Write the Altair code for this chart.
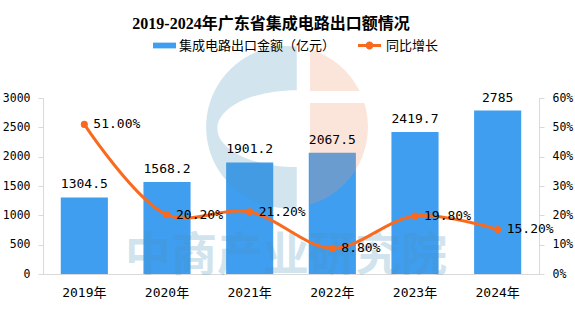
import altair as alt
import pandas as pd

years = ["2019年", "2020年", "2021年", "2022年", "2023年", "2024年"]
exports = [1304.5, 1568.2, 1901.2, 2067.5, 2419.7, 2785]
export_labels = ["1304.5", "1568.2", "1901.2", "2067.5", "2419.7", "2785"]
growth = [0.51, 0.202, 0.212, 0.088, 0.198, 0.152]

bar_series = "集成电路出口金额（亿元）"
line_series = "同比增长"
title_text = "2019-2024年广东省集成电路出口额情况"
watermark_text = "中商产业研究院"

BLUE = "#3f9ef0"
ORANGE = "#f96a1f"
AXIS_GRAY = "#d9d9d9"
NUM_FONT = "DejaVu Sans Mono, Noto Sans CJK SC"
CJK_FONT = "Noto Sans CJK SC"

df = pd.DataFrame({
    "year": years,
    "exports": exports,
    "label": export_labels,
    "growth": growth,
    "s1": [bar_series] * len(years),
    "s2": [line_series] * len(years),
})

x_enc = alt.X(
    "year:N", sort=years, title=None,
    scale=alt.Scale(paddingInner=0.43, paddingOuter=0.215),
    axis=alt.Axis(labelAngle=0, ticks=False, domainColor=AXIS_GRAY, labelPadding=12,
                  labelFont=NUM_FONT, labelFontSize=13, labelColor="#000"),
)

y_left = alt.Y(
    "exports:Q", title=None,
    scale=alt.Scale(domain=[0, 3000], nice=False),
    axis=alt.Axis(values=[0, 500, 1000, 1500, 2000, 2500, 3000], format="d", grid=False,
                  domainColor=AXIS_GRAY, tickColor=AXIS_GRAY, tickSize=5, labelPadding=8,
                  labelFont=NUM_FONT, labelFontSize=11.5, labelColor="#000"),
)

y_right = alt.Y(
    "growth:Q", title=None,
    scale=alt.Scale(domain=[0, 0.6], nice=False),
    axis=alt.Axis(orient="right", values=[0, 0.1, 0.2, 0.3, 0.4, 0.5, 0.6], format=".0%",
                  grid=False, domainColor=AXIS_GRAY, tickColor=AXIS_GRAY, tickSize=5,
                  labelPadding=8, labelFont=NUM_FONT, labelFontSize=11.5, labelColor="#000"),
)

base = alt.Chart(df)

watermark = alt.Chart(pd.DataFrame({"t": [watermark_text]})).mark_text(
    font=CJK_FONT, fontSize=46, fontWeight="bold", color="#4c94bc", opacity=0.25,
    align="center", baseline="middle",
).encode(x=alt.value(243), y=alt.value(158), text="t:N")

logo_blue = alt.Chart(pd.DataFrame({"k": ["a"]})).mark_point(
    shape="M0.12,-0.993A1,1 0 1,0 0.12,0.993Z M0.12,0.495A0.98,0.475 0 1,1 0.12,-0.455Z",
    size=26244, filled=True, color="#4c94bc", opacity=0.25, strokeWidth=0,
).encode(x=alt.value(244), y=alt.value(29))
logo_red = alt.Chart(pd.DataFrame({"k": ["b"]})).mark_point(
    shape="M0.284,-0.959A1,1 0 0,1 0.896,-0.444L0.284,-0.444Z M0.284,-0.296L0.955,-0.296A1,1 0 0,1 0.284,0.959Z",
    size=26244, filled=True, color="#f0966e", opacity=0.25, strokeWidth=0,
).encode(x=alt.value(244), y=alt.value(29))

bars = base.mark_bar().encode(
    x=x_enc, y=y_left,
    color=alt.Color("s1:N", title=None, scale=alt.Scale(range=[BLUE]),
                    legend=alt.Legend(orient="none", legendX=110, legendY=-64,
                                      symbolType="M-1,-0.25H1V0.25H-1Z", symbolSize=529,
                                      symbolStrokeWidth=0, labelFont=CJK_FONT, labelFontSize=13,
                                      labelColor="#000", labelOffset=3)),
)
bar_text = base.mark_text(font=NUM_FONT, fontSize=13, color="#000", baseline="alphabetic", dy=-9).encode(
    x=x_enc, y=y_left, text="label:N"
)
left = alt.layer(bars, watermark, logo_blue, logo_red, bar_text)

line = base.mark_line(strokeWidth=3, interpolate="catmull-rom").encode(
    x=x_enc, y=y_right,
    stroke=alt.Stroke("s2:N", title=None, scale=alt.Scale(range=[ORANGE]),
                      legend=alt.Legend(orient="none", legendX=315, legendY=-64,
                                        symbolType="M-1,-0.12H1V0.12H-1Z M0.35,0A0.35,0.35 0 1 1 -0.35,0A0.35,0.35 0 1 1 0.35,0Z",
                                        symbolSize=529, symbolFillColor=ORANGE, symbolStrokeWidth=0,
                                        labelFont=CJK_FONT, labelFontSize=13, labelColor="#000",
                                        labelOffset=5)),
)
points = base.mark_point(filled=True, size=50, color=ORANGE, opacity=1).encode(x=x_enc, y=y_right)
line_text = base.mark_text(font=NUM_FONT, fontSize=13, color="#000", align="left", baseline="middle", dx=9).encode(
    x=x_enc, y=y_right, text=alt.Text("growth:Q", format=".2%")
)
right = alt.layer(line, points, line_text)

chart = alt.layer(left, right).resolve_scale(
    y="independent", color="independent", stroke="independent"
).properties(
    width=496, height=176, autosize="none",
    padding={"left": 43, "top": 98, "right": 36, "bottom": 52},
    title=alt.TitleParams(title_text, font="Liberation Serif, Noto Sans CJK SC", fontSize=16,
                          fontWeight="bold", color="#000", anchor="start", dx=130, offset=2),
).configure_view(stroke=None)

chart.save("out.html", embed_options={"renderer": "svg", "actions": False})
